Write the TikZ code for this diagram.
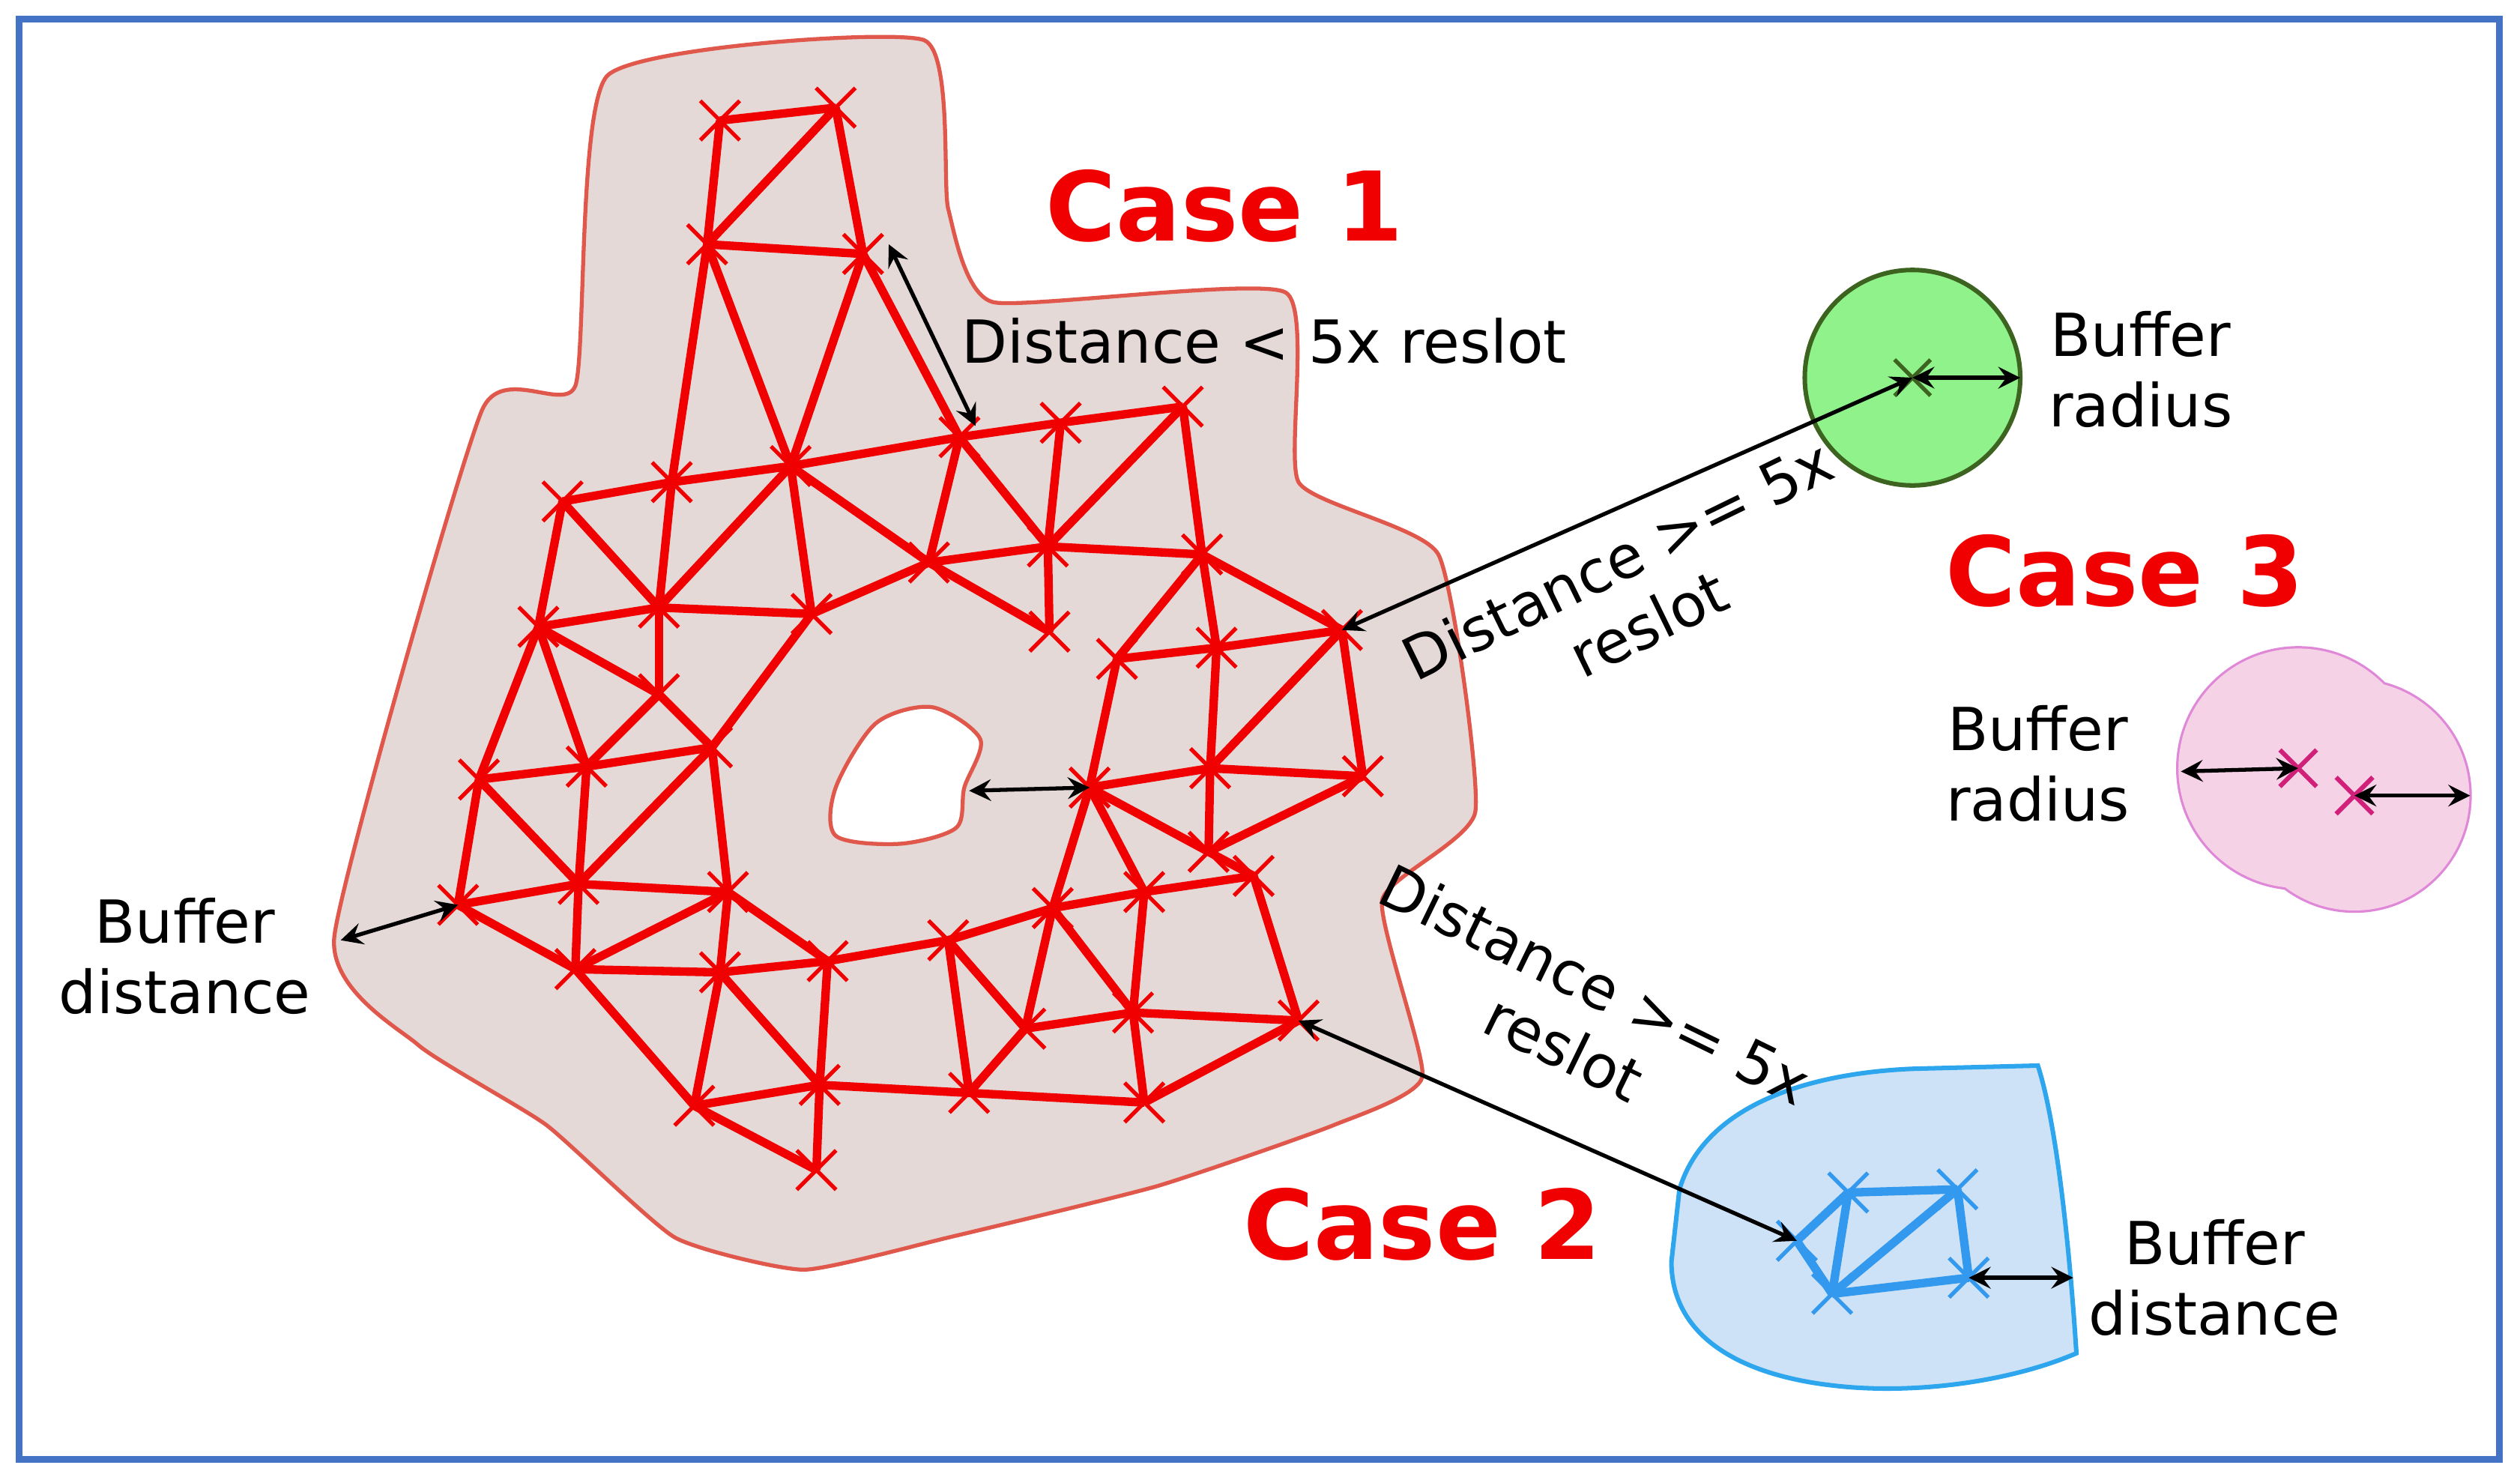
\documentclass[tikz,border=0pt]{standalone}
\usepackage{fontspec}
\setmainfont{DejaVu Sans}
\usetikzlibrary{shapes.misc}
\definecolor{regfill}{HTML}{E5D9D7}
\definecolor{regline}{HTML}{E0584C}
\definecolor{frame}{HTML}{4472C4}
\definecolor{meshred}{HTML}{F00000}
\definecolor{bluefill}{HTML}{CDE2F6}
\definecolor{blueline}{HTML}{2EA6EE}
\definecolor{bluemesh}{HTML}{3399EE}
\definecolor{greenfill}{HTML}{90F28A}
\definecolor{greenline}{HTML}{3C6420}
\definecolor{pinkfill}{HTML}{F6D2E6}
\definecolor{pinkline}{HTML}{E088D8}
\definecolor{pinkmark}{HTML}{D0207A}
\begin{document}
\begin{tikzpicture}[x=0.01cm,y=-0.01cm,
  mk/.style={cross out,draw=meshred,line width=0.7pt,minimum size=0.22cm,inner sep=0pt},
  mesh/.style={meshred,line width=1.5pt},
  dim/.style={<->,>=stealth,line width=0.7pt,black},
  lab/.style={font=\fontsize{10.5}{12.5}\selectfont,align=center,inner sep=1pt},
  case/.style={font=\fontsize{17}{20}\selectfont\bfseries,text=meshred}]
\useasboundingbox (0,0) rectangle (1568,922.7);
\draw[frame,line width=1.2pt] (12,12) rectangle (1555,908);
% region
\fill[regfill,draw=regline,line width=0.7pt,even odd rule]
 plot[smooth cycle,tension=0.3] coordinates{(378,47)(575,25)(590,130)(618,188)(800,182)(808,300)(895,345)(918,505)(860,560)(885,670)(830,700)(720,738)(590,770)(500,790)(420,770)(340,700)(260,650)(208,583)(300,255)(358,240)}
 plot[smooth cycle,tension=0.5] coordinates{(520,490)(545,450)(580,440)(610,460)(600,490)(595,515)(560,525)(520,520)};
% mesh nodes
\foreach \n/\x/\y in {a1/448/75,a2/520/67,b1/440/152,b2/537/158,
 c1/350/312,c2/418/300,c3/492/290,c4/597/272,c5/660/263,c6/736/253,
 d1/335/390,d2/410/378,d3/505/382,d4/578/350,d5/652/340,d6/748/345,
 e1/410/432,e2/653/393,e3/695/410,e4/757/403,e5/835/392,
 f1/365/477,f2/443/465,g1/298/485,g2/678/490,g3/753/478,g4/848/483,
 h1/360/550,h2/453/555,h3/655/565,h4/712/555,h5/780/545,h6/752/530,
 i1/285/563,j1/358/603,j2/448/605,j3/515/598,j4/590/585,
 k1/638/640,k2/705/630,k3/808/635,l1/432/688,l2/510/675,l3/603/680,l4/712/686,m1/508/728}
 \node[mk] (\n) at (\x,\y) {};
\foreach \u/\v in {a1/a2,a1/b1,a2/b1,a2/b2,b1/b2,b1/c2,b1/c3,b2/c3,b2/c4,
 c1/c2,c2/c3,c3/c4,c4/c5,c5/c6,c1/d1,c1/d2,c2/d2,c3/d2,c3/d3,c3/d4,c4/d4,c4/d5,c5/d5,c6/d5,c6/d6,
 d1/d2,d2/d3,d3/d4,d4/d5,d5/d6,d1/e1,d2/e1,d3/f2,d1/f1,e1/f1,e1/f2,f1/f2,
 d4/e2,d5/e2,d6/e3,d6/e4,d6/e5,e3/e4,e4/e5,
 d1/g1,f1/g1,g1/i1,g1/h1,f1/h1,f2/h1,f2/h2,h1/h2,
 e3/g2,e4/g3,g2/g3,g3/g4,e5/g4,e5/g3,
 g2/h3,g2/h4,g3/h6,g4/h6,h6/h5,g2/h6,
 i1/j1,i1/h1,h1/j1,h2/j1,h2/j2,j1/j2,j2/j3,j3/j4,j4/h3,h3/h4,h4/h5,h2/j3,
 j1/l1,j2/l1,j2/l2,j3/l2,j4/l3,j4/k1,h3/k1,h3/k2,h4/k2,h5/k3,k1/k2,k2/k3,k1/l3,k2/l4,k3/l4,
 l1/l2,l2/l3,l3/l4,l1/m1,l2/m1}
 \draw[mesh] (\u.center) -- (\v.center);
% case 1 annotations
\coordinate (hole) at (603,492);
\draw[dim] (hole) -- (g2.center);
\coordinate (bl) at (212,585);
\draw[dim] (bl) -- (i1.center);
\node[lab] (bd1) at (115,595) {Buffer\\distance};
\coordinate (dl1) at (553,152); \coordinate (dl2) at (607,265);
\draw[dim] (dl1) -- (dl2);
\node[lab,anchor=west] (dlt) at (594,212) {Distance < 5x reslot};
\node[case] (c1t) at (762,128) {Case 1};
% case 3 green
\node[circle,fill=greenfill,draw=greenline,line width=0.8pt,minimum size=1.34cm] (gc) at (1190,235) {};
\node[cross out,draw=greenline,line width=0.7pt,minimum size=0.2cm,inner sep=0pt] (gx) at (1190,235) {};
\coordinate (gr) at (1257,235);
\draw[dim] (gx.center) -- (gr);
\node[lab] (brg) at (1332,230) {Buffer\\radius};
\draw[dim] (e5.center) -- (gx.center);
\node[lab,rotate=26] (d5a) at (1016,368) {Distance >= 5x\\reslot};
% case 3 pink
\fill[pinkline] (1430,478) circle (76) (1465,495) circle (73);
\fill[pinkfill] (1430,478) circle (74.5) (1465,495) circle (71.5);
\node[cross out,draw=pinkmark,line width=0.8pt,minimum size=0.2cm,inner sep=0pt] (p1) at (1430,478) {};
\node[cross out,draw=pinkmark,line width=0.8pt,minimum size=0.2cm,inner sep=0pt] (p2) at (1465,495) {};
\coordinate (pl) at (1357,480); \coordinate (pr) at (1537,495);
\draw[dim] (pl) -- (p1.center);
\draw[dim] (p2.center) -- (pr);
\node[lab] (brp) at (1268,475) {Buffer\\radius};
\node[case] (c3t) at (1322,355) {Case 3};
% case 2 blue
\fill[bluefill,draw=blueline,line width=0.8pt] (1045,740) .. controls (1060,690) and (1120,668) .. (1190,665)
 -- (1268,663) .. controls (1280,700) and (1288,780) .. (1292,842)
 .. controls (1250,860) and (1190,868) .. (1140,862) .. controls (1080,855) and (1040,830) .. (1040,785) -- cycle;
\foreach \n/\x/\y in {q1/1150/742,q2/1218/740,q3/1225/795,q4/1140/805,q5/1118/772}
 \node[cross out,draw=bluemesh,line width=0.7pt,minimum size=0.22cm,inner sep=0pt] (\n) at (\x,\y) {};
\foreach \u/\v in {q1/q2,q2/q3,q3/q4,q4/q1,q4/q2,q5/q1,q5/q4}
 \draw[bluemesh,line width=1.5pt] (\u.center) -- (\v.center);
\coordinate (qr) at (1290,795);
\draw[dim] (q3.center) -- (qr);
\node[lab] (bd2) at (1378,795) {Buffer\\distance};
\draw[dim] (k3.center) -- (q5.center);
\node[lab,rotate=-26] (d5b) at (983,632) {Distance >= 5x\\reslot};
\node[case] (c2t) at (885,762) {Case 2};
\end{tikzpicture}
\end{document}
